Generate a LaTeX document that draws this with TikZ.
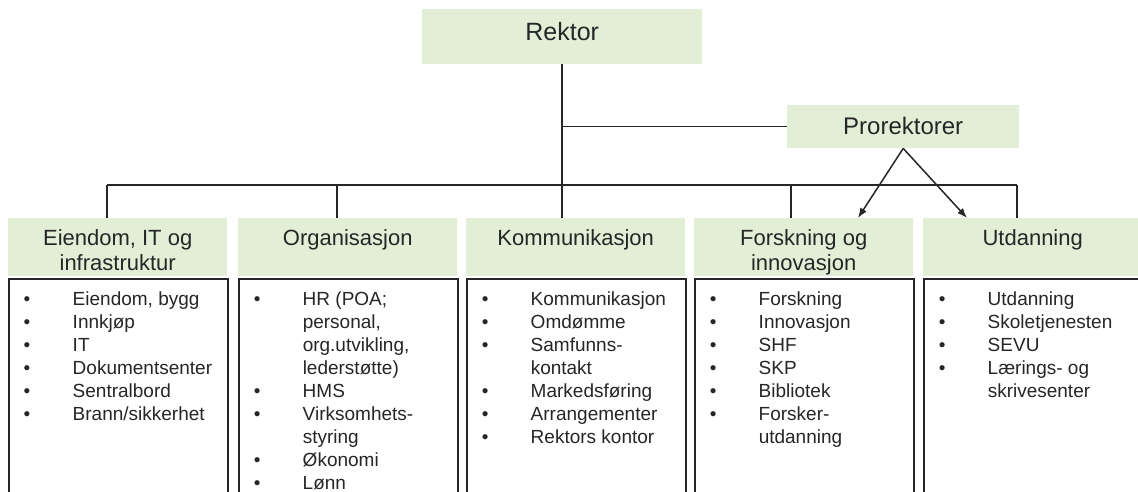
\documentclass[tikz,border=0pt]{standalone}
\usepackage{fontspec}
\setmainfont{Liberation Sans}
\usetikzlibrary{arrows.meta}

\definecolor{hdrgreen}{HTML}{E2EFD6}
\definecolor{ink}{HTML}{262626}

% header text: top-aligned, centred lines
\newcommand{\hdrtext}[1]{\parbox[c][58pt][t]{219pt}{\fontsize{22}{25}\selectfont\centering\vspace*{9.5pt}\strut #1}}
% bulleted list with hanging text column
\newcommand{\listtext}[1]{\parbox[c][240pt][t]{219pt}{\fontsize{19}{23}\selectfont\vspace*{11pt}\hspace*{15pt}\begin{tabular}[t]{@{}p{49pt}@{}l@{}}#1\end{tabular}}}

\tikzset{
  topbox/.style={fill=hdrgreen, draw=none, inner sep=0pt, text=ink},
  hdrbox/.style={fill=hdrgreen, draw=none, inner sep=0pt, anchor=north west, text=ink},
  listbox/.style={fill=white, draw=ink, line width=1.5pt, inner sep=0pt, anchor=north west, text=ink},
  conn/.style={draw=ink, line width=1.5pt},
  arr/.style={conn, -{Latex[length=10pt,width=7.5pt]}}
}

\begin{document}
\begin{tikzpicture}[x=1pt, y=-1pt]
\useasboundingbox (0,0) rectangle (1138,492);
\clip (0,0) rectangle (1138,492);

% top level
\node[topbox, anchor=north west, minimum width=280pt, minimum height=55pt,
      font=\fontsize{25}{29}\selectfont, text height=18pt, text depth=10pt]
      (rektor) at (422,9) {Rektor};
\node[topbox, anchor=north west, minimum width=232pt, minimum height=43pt,
      font=\fontsize{24}{28}\selectfont, text height=17pt, text depth=2pt]
      (pro) at (787,105) {Prorektorer};

% unit headers
\node[hdrbox] (h1) at (8,218)   {\hdrtext{Eiendom, IT og\\infrastruktur}};
\node[hdrbox] (h2) at (238,218) {\hdrtext{Organisasjon}};
\node[hdrbox] (h3) at (466,218) {\hdrtext{Kommunikasjon}};
\node[hdrbox] (h4) at (694,218) {\hdrtext{Forskning og\\innovasjon}};
\node[hdrbox] (h5) at (923,218) {\hdrtext{Utdanning}};

% unit task lists
\node[listbox] (l1) at (8,278) {\listtext{%
  \textbullet & Eiendom, bygg\\
  \textbullet & Innkjøp\\
  \textbullet & IT\\
  \textbullet & Dokumentsenter\\
  \textbullet & Sentralbord\\
  \textbullet & Brann/sikkerhet}};
\node[listbox] (l2) at (238,278) {\listtext{%
  \textbullet & HR (POA;\\
              & personal,\\
              & org.utvikling,\\
              & lederstøtte)\\
  \textbullet & HMS\\
  \textbullet & Virksomhets-\\
              & styring\\
  \textbullet & Økonomi\\
  \textbullet & Lønn}};
\node[listbox] (l3) at (466,278) {\listtext{%
  \textbullet & Kommunikasjon\\
  \textbullet & Omdømme\\
  \textbullet & Samfunns-\\
              & kontakt\\
  \textbullet & Markedsføring\\
  \textbullet & Arrangementer\\
  \textbullet & Rektors kontor}};
\node[listbox] (l4) at (694,278) {\listtext{%
  \textbullet & Forskning\\
  \textbullet & Innovasjon\\
  \textbullet & SHF\\
  \textbullet & SKP\\
  \textbullet & Bibliotek\\
  \textbullet & Forsker-\\
              & utdanning}};
\node[listbox] (l5) at (923,278) {\listtext{%
  \textbullet & Utdanning\\
  \textbullet & Skoletjenesten\\
  \textbullet & SEVU\\
  \textbullet & Lærings- og\\
              & skrivesenter}};

% connector points
\coordinate (busy) at (0,185);
\coordinate (d1) at ([xshift=99pt]h1.north west);
\coordinate (d2) at ([xshift=99pt]h2.north west);
\coordinate (d4) at ([xshift=97pt]h4.north west);
\coordinate (d5) at ([xshift=94pt]h5.north west);

% main trunk and staff branch
\draw[conn] (rektor.south) -- (h3.north -| rektor.south);
\draw[conn] (pro.west) -- (pro.west -| rektor.south);

% horizontal bus and drops
\draw[conn] (d1 |- busy) -- (d5 |- busy);
\draw[conn] (d1) -- (d1 |- busy);
\draw[conn] (d2) -- (d2 |- busy);
\draw[conn] (d4) -- (d4 |- busy);
\draw[conn] (d5) -- (d5 |- busy);

% prorektor responsibilities
\draw[arr] (pro.south) -- ([xshift=164pt]h4.north west);
\draw[arr] (pro.south) -- ([xshift=44pt]h5.north west);
\end{tikzpicture}
\end{document}
